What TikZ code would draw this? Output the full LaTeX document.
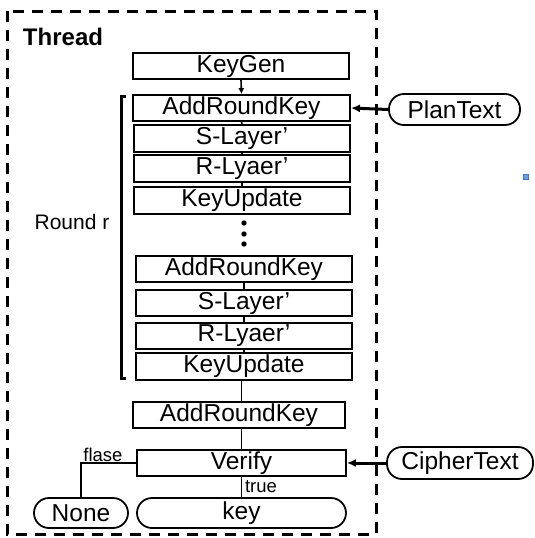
\documentclass[tikz,border=0pt]{standalone}
\usepackage{fontspec}
\setmainfont{Liberation Sans}
\usetikzlibrary{arrows.meta}
\tikzset{
  stagebox/.style={draw, line width=1.8pt, minimum width=216pt, minimum height=26pt, inner sep=0pt, font=\fontsize{24.5}{24.5}\selectfont},
  pill/.style={draw, line width=1.8pt, rounded corners=15pt, inner sep=0pt, font=\fontsize{24.5}{24.5}\selectfont},
  link/.style={line width=1.6pt},
  feed/.style={line width=3pt, -{Latex[length=9pt,width=8pt]}},
  small/.style={font=\fontsize{18.5}{18.5}\selectfont, inner sep=0pt},
}
\begin{document}
\begin{tikzpicture}[x=1pt,y=-1pt]
\useasboundingbox (0,0) rectangle (535,538);
% thread frame
\draw[line width=3pt, dash pattern=on 11pt off 8pt] (7,11) rectangle (376,534);
\node[font=\fontsize{24}{24}\selectfont\bfseries, inner sep=0pt] (thread) at (63,37) {Thread};
% stages
\node[stagebox] (keygen) at (241,66) {KeyGen};
\node[stagebox, minimum width=217pt] (ark1) at (241.5,108) {AddRoundKey};
\node[stagebox, minimum height=27pt] (sl1) at (242,138.5) {S-Layer’};
\node[stagebox, minimum height=27pt] (rl1) at (242,168.5) {R-Lyaer’};
\node[stagebox, minimum height=27pt] (ku1) at (242,200.5) {KeyUpdate};
\node[stagebox] (ark2) at (244,269) {AddRoundKey};
\node[stagebox] (sl2) at (244,303) {S-Layer’};
\node[stagebox] (rl2) at (244,336) {R-Lyaer’};
\node[stagebox, minimum height=27pt] (ku2) at (244,366.5) {KeyUpdate};
\node[stagebox, minimum width=212pt] (ark3) at (239,415) {AddRoundKey};
\node[stagebox, minimum width=209pt] (verify) at (241.5,463) {Verify};
\node[pill, minimum width=209pt, minimum height=30pt] (key) at (241.5,513) {key};
\node[pill, minimum width=94pt, minimum height=30pt] (none) at (81,513) {None};
\node[pill, minimum width=131pt, minimum height=31pt] (plan) at (454.5,109.5) {PlanText};
\node[pill, minimum width=146pt, minimum height=32pt] (cipher) at (460,463) {CipherText};
% dots
\fill (244,223) circle (2.7pt);
\fill (244,234) circle (2.7pt);
\fill (244,244) circle (2.7pt);
% connectors
\draw[link, -{Latex[length=6pt,width=6pt]}] (keygen.south) -- (ark1.north);
\draw[link] (ark1.south) -- (sl1.north);
\draw[link] (sl1.south) -- (rl1.north);
\draw[link] (rl1.south) -- (ku1.north);
\draw[link] (ark2.south) -- (sl2.north);
\draw[link] (sl2.south) -- (rl2.north);
\draw[link] (rl2.south) -- (ku2.north);
\draw[link] (verify.north |- ku2.south) -- (verify.north |- ark3.north);
\draw[link] (verify.north |- ark3.south) -- (verify.north);
\draw[link] (verify.south) -- (key.north);
\draw[link] (verify.west) -| (none.north);
\node[small] (tlabel) at (261,487) {true};
\node[small] (flabel) at (103,455) {flase};
\draw[feed] (plan.west) -- (ark1.east);
\draw[feed] (cipher.west) -- (verify.east);
% round bracket
\draw[line width=3pt] (126,96) -- (121,96) -- (121,378) -- (126,378);
\node[font=\fontsize{21}{21}\selectfont, inner sep=0pt] (round) at (72,222) {Round r};
% stray marker
\draw[fill={rgb,255:red,110;green,160;blue,220}, draw={rgb,255:red,68;green,114;blue,196}, line width=0.6pt] (523.5,174.5) rectangle (528.5,179.5);
\end{tikzpicture}
\end{document}
